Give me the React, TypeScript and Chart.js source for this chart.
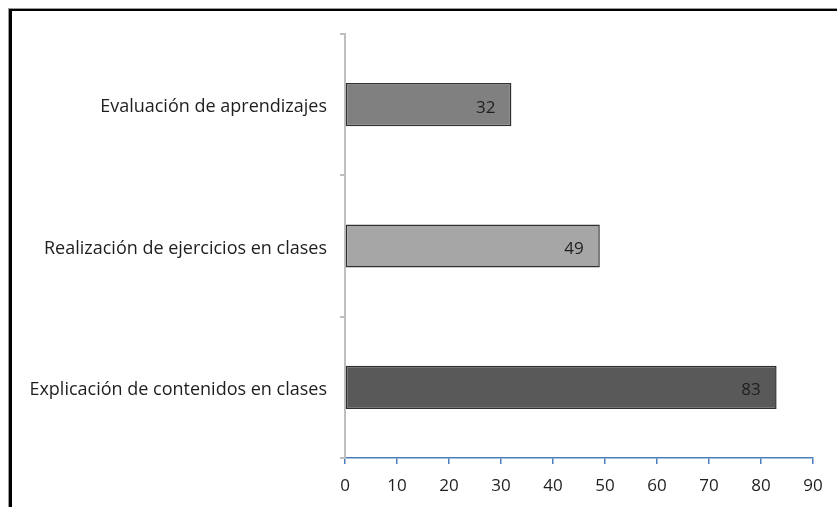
import React, { useEffect, useRef } from "react";
import { Chart, registerables } from "chart.js";

Chart.register(...registerables);

const categories = [
  "Evaluación de aprendizajes",
  "Realización de ejercicios en clases",
  "Explicación de contenidos en clases",
];
const values = [32, 49, 83];
const barColors = ["#808080", "#a6a6a6", "#595959"];
const xTickMin = 0;
const xTickMax = 90;
const xTickStep = 10;

const FONT = "'Open Sans', Lato, sans-serif";

const valueLabels = {
  id: "valueLabels",
  afterDatasetsDraw(chart: any) {
    const ctx = chart.ctx;
    const meta = chart.getDatasetMeta(0);
    ctx.save();
    ctx.font = `17px ${FONT}`;
    ctx.fillStyle = "#1e1e1e";
    ctx.textAlign = "right";
    ctx.textBaseline = "middle";
    meta.data.forEach((el: any, i: number) => {
      ctx.fillText(String(values[i]), el.x - 16, el.y + 3);
    });
    ctx.restore();
  },
};

export default function App() {
  const ref = useRef<HTMLCanvasElement | null>(null);
  useEffect(() => {
    if (!ref.current) return;
    const chart = new Chart(ref.current, {
      type: "bar",
      data: {
        labels: categories,
        datasets: [
          {
            data: values,
            backgroundColor: barColors,
            borderColor: "#303030",
            borderWidth: 1.5,
            borderSkipped: false,
            barPercentage: 0.305,
            categoryPercentage: 1,
          },
        ],
      },
      options: {
        indexAxis: "y",
        animation: false,
        responsive: false,
        maintainAspectRatio: false,
        layout: { padding: { left: 0, right: 24, top: 34, bottom: 0 } },
        plugins: {
          legend: { display: false },
          tooltip: { enabled: false },
        },
        scales: {
          x: {
            min: xTickMin,
            max: xTickMax,
            ticks: {
              stepSize: xTickStep,
              color: "#1e1e1e",
              font: { family: FONT, size: 17 },
              padding: 12,
              maxRotation: 0,
            },
            grid: {
              display: true,
              drawOnChartArea: false,
              drawTicks: true,
              tickLength: 6,
              color: "#4a7ebb",
              lineWidth: 1.5,
            },
            border: { display: true, color: "#4a7ebb", width: 1.5 },
            afterFit(scale: any) {
              scale.height = 49;
            },
          },
          y: {
            offset: true,
            ticks: {
              color: "#1e1e1e",
              font: { family: FONT, size: 18 },
              padding: 13,
              labelOffset: 2.5,
            },
            grid: {
              display: true,
              offset: true,
              drawOnChartArea: false,
              drawTicks: true,
              tickLength: 5,
              color: "#bfbfbf",
              lineWidth: 2,
            },
            border: { display: true, color: "#bfbfbf", width: 2 },
            afterFit(scale: any) {
              scale.width = 345;
            },
          },
        },
      },
      plugins: [valueLabels],
    } as any);
    return () => chart.destroy();
  }, []);

  return (
    <div
      style={{
        position: "fixed",
        left: 0,
        top: 0,
        width: 837,
        height: 507,
        background: "#ffffff",
      }}
    >
      <canvas ref={ref} width={837} height={507} style={{ display: "block" }} />
      <div
        style={{
          position: "absolute",
          left: 9,
          top: 9,
          width: 837,
          height: 507,
          borderTop: "2px solid #000",
          borderLeft: "3px solid #000",
          boxShadow: "-1px -1px 0 #9a9a9a",
          pointerEvents: "none",
        }}
      />
    </div>
  );
}
